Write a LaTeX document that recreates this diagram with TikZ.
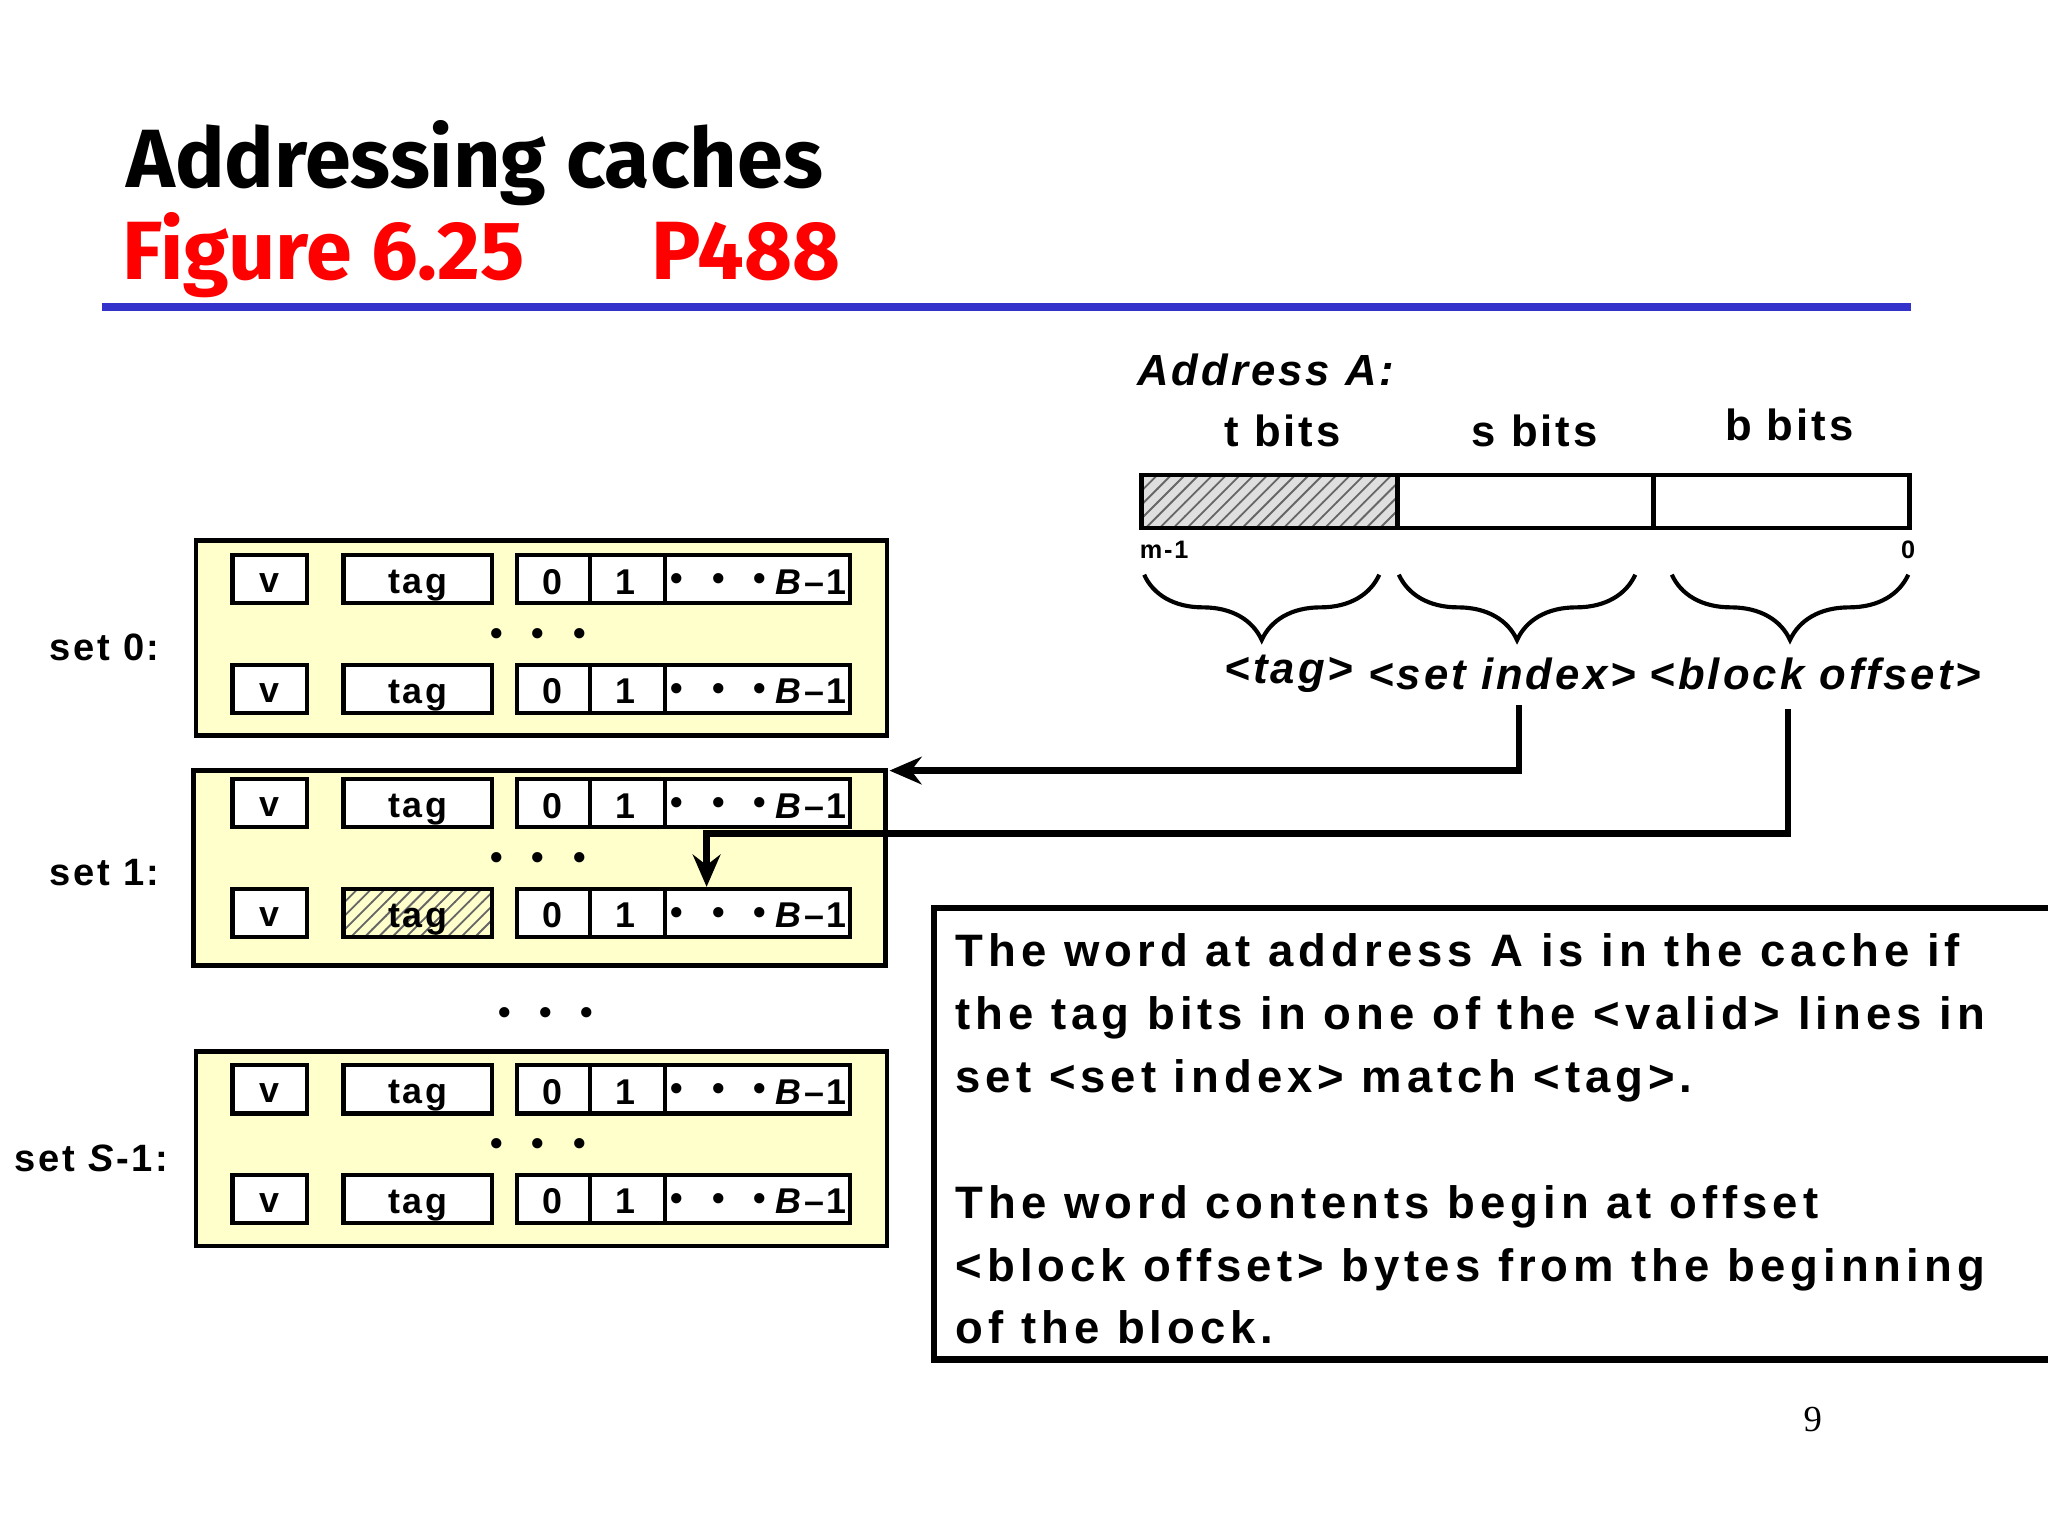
\documentclass[tikz,border=0pt]{standalone}
\usepackage{fontspec}
\setmainfont{Liberation Sans}[LetterSpace=7]
\newfontfamily\bodyfont{Liberation Sans}[LetterSpace=11]
\newfontfamily\titlefont{Fira Sans}
\newfontfamily\numfont{Liberation Serif}
\usetikzlibrary{patterns,decorations.pathreplacing,arrows.meta}
\definecolor{cream}{RGB}{255,255,204}
\definecolor{tblue}{RGB}{51,51,204}
\tikzset{
  P/.style={x=0.01cm,y=-0.01cm},
  cell/.style={draw,line width=0.9pt,fill=white},
  setbox/.style={draw,line width=1pt,fill=cream},
  lbl/.style={font=\fontsize{7.8}{9}\selectfont\bfseries,inner sep=0},
  hatch/.style={pattern=north east lines,pattern color=gray!80!black},
  conn/.style={line width=1.4pt},
  brc/.style={decorate,decoration={brace,mirror,amplitude=0.5cm,aspect=0.5},line width=0.9pt}
}
\newcommand{\cacherow}[2]{%
  \draw[cell] (178,#1-18.5) rectangle (235,#1+18.5);
  \node[lbl] at (206,#1+3) {v};
  \draw[cell,#2] (263,#1-18.5) rectangle (377,#1+18.5);
  \node[lbl] at (320,#1+5) {tag};
  \draw[cell] (396,#1-18.5) rectangle (651,#1+18.5);
  \draw[line width=0.9pt] (452,#1-18.5) -- (452,#1+18.5) (509,#1-18.5) -- (509,#1+18.5);
  \node[lbl] at (423,#1+2) {0};
  \node[lbl] at (479,#1+2) {1};
  \node[lbl] at (550,#1+2) {•\hspace{0.8em}•\hspace{0.8em}•};
  \node[lbl] at (621,#1+2) {\textit{B}–1};
}
\begin{document}
\begin{tikzpicture}[P]
\useasboundingbox (0,0) rectangle (1568,1176);
\clip (0,0) rectangle (1568,1176);
\fill[white] (0,0) rectangle (1568,1176);
% title
\node[anchor=west,inner sep=0,font=\titlefont\fontsize{18}{20}\selectfont\bfseries] (t1) at (96,125) {Addressing caches};
\node[anchor=west,inner sep=0,text=red,font=\titlefont\fontsize{18}{20}\selectfont\bfseries] (t2) at (93,195) {Figure 6.25\hspace{1.3em} P488};
\draw[tblue,line width=1.6pt] (78,235) -- (1463,235);
% address
\node[anchor=west,inner sep=0,font=\fontsize{9.5}{10}\selectfont\bfseries\itshape] at (870,283) {Address A:};
\node[lbl,font=\fontsize{9.5}{10}\selectfont\bfseries] at (982,330) {t bits};
\node[lbl,font=\fontsize{9.5}{10}\selectfont\bfseries] at (1175,330) {s bits};
\node[lbl,font=\fontsize{9.5}{10}\selectfont\bfseries] at (1370,325) {b bits};
\draw[line width=0.9pt,fill=gray!25] (874,364) rectangle (1070,404);
\fill[hatch] (874,364) rectangle (1070,404);
\draw[line width=0.9pt] (874,364) rectangle (1462,404) (1070,364)--(1070,404) (1266,364)--(1266,404);
\node[anchor=west,lbl,font=\fontsize{5.5}{6}\selectfont\bfseries] at (872,421) {m-1};
\node[lbl,font=\fontsize{5.5}{6}\selectfont\bfseries] at (1461,421) {0};
\draw[brc] (876,440) -- (1056,440);
\draw[brc] (1071,440) -- (1252,440);
\draw[brc] (1280,440) -- (1461,440);
\node[lbl,font=\fontsize{9.5}{10}\selectfont\bfseries\itshape] (tg) at (987,516) {<tag>};
\node[lbl,font=\fontsize{9.5}{10}\selectfont\bfseries\itshape] (si) at (1150,516) {<set index>};
\node[lbl,font=\fontsize{9.5}{10}\selectfont\bfseries\itshape] (bo) at (1390,516) {<block offset>};
% sets
\draw[setbox] (150,414) rectangle (679,563);
\draw[setbox] (148,590) rectangle (678,739);
\draw[setbox] (150,805) rectangle (679,954);
\cacherow{443.5}{}
\cacherow{527.5}{}
\cacherow{615}{}
\cacherow{699}{hatch}
\cacherow{834}{}
\cacherow{918}{}
\node[lbl] at (412,488) {•\hspace{0.8em}•\hspace{0.8em}•};
\node[lbl] at (412,659) {•\hspace{0.8em}•\hspace{0.8em}•};
\node[lbl] at (412,878) {•\hspace{0.8em}•\hspace{0.8em}•};
\node[lbl] at (418,778) {•\hspace{0.8em}•\hspace{0.8em}•};
\node[lbl,font=\fontsize{8.3}{9}\selectfont\bfseries] at (80,496) {set 0:};
\node[lbl,font=\fontsize{8.3}{9}\selectfont\bfseries] at (80,668) {set 1:};
\node[lbl,font=\fontsize{8.3}{9}\selectfont\bfseries] at (70,887) {set \textit{S}-1:};
% connectors
\coordinate (a1) at (1163,540);
\coordinate (a2) at (681,590);
\draw[conn,-{Stealth[length=7pt,width=6pt]}] (a1) |- (a2);
\coordinate (b1) at (1369,543);
\coordinate (b2) at (541,679);
\draw[conn,-{Stealth[length=7pt,width=6pt]}] (b1) -- (1369,638) -- (541,638) -- (b2);
% text box
\draw[line width=1.4pt] (715,695) rectangle (1580,1041);
\node[anchor=north west,inner sep=0,align=left,font=\bodyfont\fontsize{9.9}{13.7}\selectfont\bfseries] (tx) at (731,714)
{The word at address A is in the cache if\\
the tag bits in one of the <valid> lines in\\
set <set index> match <tag>.\\[13.7pt]
The word contents begin at offset\\
<block offset> bytes from the beginning\\
of the block.};
\node[font=\numfont\fontsize{8}{9}\selectfont] at (1388,1087) {9};
\end{tikzpicture}
\end{document}
